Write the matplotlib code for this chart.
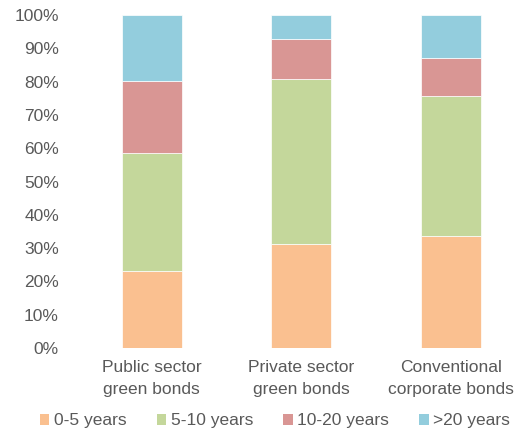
import matplotlib.pyplot as plt
from matplotlib.patches import Patch

plt.rcParams['font.family'] = ['Liberation Sans', 'DejaVu Sans']

# data (share of issuance, %)
categories = ["Public sector\ngreen bonds", "Private sector\ngreen bonds", "Conventional\ncorporate bonds"]
series_names = ["0-5 years", "5-10 years", "10-20 years", ">20 years"]
yrs_0_5 = [23.1, 31.3, 33.6]
yrs_5_10 = [35.5, 49.5, 42.0]
yrs_10_20 = [21.6, 12.1, 11.6]
yrs_20_plus = [19.8, 7.1, 12.8]
colors = ["#FAC090", "#C4D79B", "#D99694", "#93CDDD"]
txt_col = "#595959"

fig = plt.figure(figsize=(5.21, 4.33), dpi=100)
ax = fig.add_axes([77 / 521, (433 - 348) / 433, (521 - 77) / 521, 333 / 433])

x = range(len(categories))
bottom = [0, 0, 0]
for vals, name, c in zip([yrs_0_5, yrs_5_10, yrs_10_20, yrs_20_plus], series_names, colors):
    ax.bar(x, vals, width=0.4, bottom=bottom, color=c, label=name,
           edgecolor="white", linewidth=0.5)
    bottom = [b + v for b, v in zip(bottom, vals)]

ax.set_ylim(0, 100)
ax.set_xlim(-0.5, 2.47)
ax.set_yticks(range(0, 101, 10))
ax.set_yticklabels([f"{v}%" for v in range(0, 101, 10)], va="top")
ax.set_xticks(list(x))
ax.set_xticklabels(categories, linespacing=1.55)
for s in ax.spines.values():
    s.set_visible(False)
ax.tick_params(axis="both", length=0, labelsize=12.5, colors=txt_col)
ax.tick_params(axis="y", pad=13)
ax.tick_params(axis="x", pad=9)
for lbl in ax.get_yticklabels():
    lbl.set_va("center_baseline")

handles = [Patch(facecolor=c, edgecolor="none") for c in colors]
fig.legend(handles, series_names, loc="center", bbox_to_anchor=(275 / 521, 1 - 421 / 433),
           ncol=4, frameon=False, fontsize=12.5, labelcolor=txt_col,
           handlelength=0.55, handleheight=0.55, handletextpad=0.25,
           columnspacing=1.75, borderpad=0)

fig.savefig("out.png", dpi=100)
